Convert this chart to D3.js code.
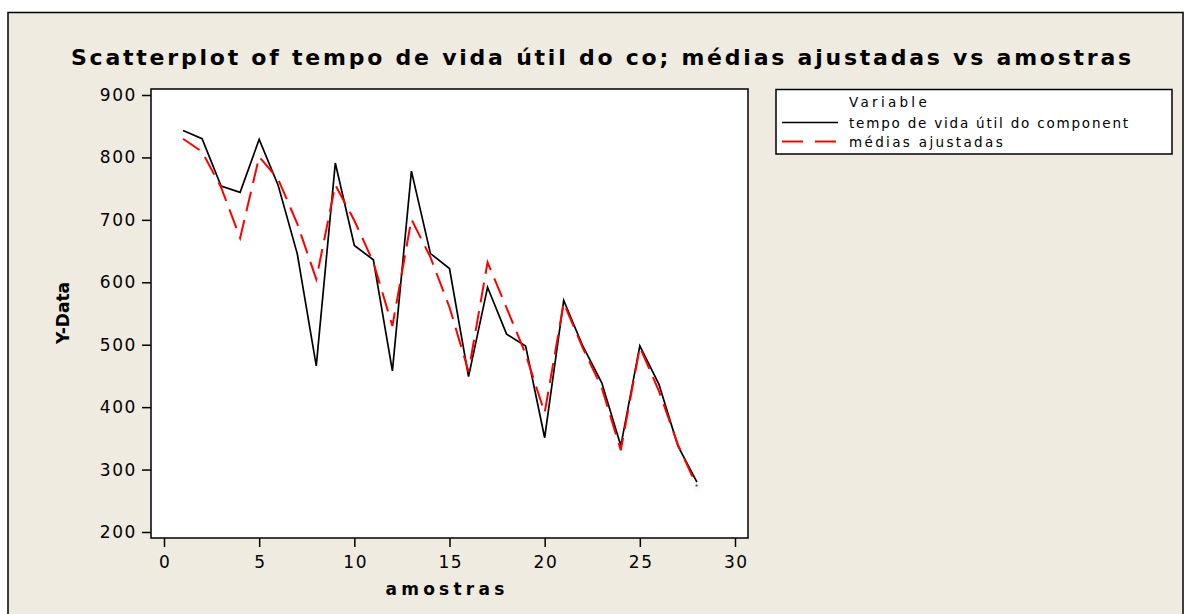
<!DOCTYPE html>
<html><head><meta charset="utf-8">
<script src="https://cdn.jsdelivr.net/npm/d3@7"></script>
<style>
html,body{margin:0;padding:0;background:#fff;}
svg{display:block;}
text{font-family:"DejaVu Sans",Verdana,sans-serif;fill:#000;}
</style></head>
<body>
<svg id="c" width="1188" height="614"></svg>
<script>
const amostras = [1,2,3,4,5,6,7,8,9,10,11,12,13,14,15,16,17,18,19,20,21,22,23,24,25,26,27,28];
const tempoVida = [843,830,754,744,829,755,646,466,791,659,636,458,778,646,622,449,592,517,498,351,571,498,439,338,498,437,338,280];
const mediasAjustadas = [830,809,752,671,801,765,694,605,756,699,632,530,701,640,560,457,632,559,485,391,567,495,431,331,496,426,340,273];
const xTicks = [0,5,10,15,20,25,30];
const yTicks = [200,300,400,500,600,700,800,900];
const titleText = "Scatterplot of tempo de vida útil do co; médias ajustadas vs amostras";
const xLabel = "amostras";
const yLabel = "Y-Data";
const legendTitle = "Variable";
const seriesNames = ["tempo de vida útil do component","médias ajustadas"];

const svg = d3.select("#c");
svg.append("rect").attr("x",8).attr("y",12.5).attr("width",1175).attr("height",620)
  .attr("fill","#efebe1").attr("stroke","#000").attr("stroke-width",1.5);

const plot = {left:151, top:89, right:748, bottom:538};
const x = d3.scaleLinear().domain([0,30]).range([164,735]);
const y = d3.scaleLinear().domain([200,900]).range([532,95]);

svg.append("rect").attr("x",plot.left).attr("y",plot.top)
  .attr("width",plot.right-plot.left).attr("height",plot.bottom-plot.top)
  .attr("fill","#fff");

function spaced(sel, target){
  const n = sel.text().length;
  const w = sel.node().getComputedTextLength();
  sel.attr("letter-spacing", ((target - w)/n).toFixed(2));
}

const gx = svg.append("g").attr("transform",`translate(0,${plot.bottom})`)
  .call(d3.axisBottom(x).tickValues(xTicks).tickSize(9).tickPadding(5));
const gy = svg.append("g").attr("transform",`translate(${plot.left},0)`)
  .call(d3.axisLeft(y).tickValues(yTicks).tickSize(9).tickPadding(5));
[gx,gy].forEach(g=>{
  g.select(".domain").remove();
  g.selectAll("line").attr("stroke","#000").attr("stroke-width",1.5);
  g.selectAll("text").style("font-family",'"DejaVu Sans",Verdana,sans-serif')
    .style("font-size","17px").attr("letter-spacing","1.6").attr("fill","#000");
});
gx.selectAll("text").attr("dy","0.95em").attr("dx","0.8");

const line = (vals)=> d3.line().x((d,i)=>x(amostras[i])).y(d=>y(d))(vals);
svg.append("clipPath").attr("id","pc").append("rect")
  .attr("x",plot.left).attr("y",plot.top).attr("width",plot.right-plot.left).attr("height",plot.bottom-plot.top);
svg.append("path").attr("d",line(tempoVida)).attr("fill","none")
  .attr("stroke","#000").attr("stroke-width",1.7).attr("clip-path","url(#pc)");
svg.append("path").attr("d",line(mediasAjustadas)).attr("fill","none")
  .attr("stroke","#ff0000").attr("stroke-width",2).attr("stroke-dasharray","20,9").attr("clip-path","url(#pc)");

svg.append("rect").attr("x",plot.left).attr("y",plot.top)
  .attr("width",plot.right-plot.left).attr("height",plot.bottom-plot.top)
  .attr("fill","none").attr("stroke","#000").attr("stroke-width",1.5);

const t = svg.append("text").attr("x",71).attr("y",65).attr("font-weight","bold")
  .attr("font-size","22px").text(titleText);
spaced(t, 1063);

const xl = svg.append("text").attr("font-weight","bold").attr("font-size","17px").text(xLabel);
spaced(xl, 123);
xl.attr("x", 447 - 123/2).attr("y",595);
svg.append("text").attr("font-weight","bold").attr("font-size","17px")
  .attr("transform","translate(69,313) rotate(-90)").attr("text-anchor","middle").text(yLabel);

svg.append("rect").attr("x",776).attr("y",89.5).attr("width",396).attr("height",64.5)
  .attr("fill","#fff").attr("stroke","#000").attr("stroke-width",1.5);
const lt0 = svg.append("text").attr("x",849).attr("y",107).attr("font-size","13.5px").text(legendTitle);
spaced(lt0, 81);
const lrows = [{y:122.5, color:"#000", dash:null, w:1.6},{y:141.5, color:"#ff0000", dash:"21,12", w:2}];
const ltw = [281, 156];
lrows.forEach((r,i)=>{
  svg.append("line").attr("x1",782).attr("x2",838).attr("y1",r.y).attr("y2",r.y)
    .attr("stroke",r.color).attr("stroke-width",r.w).attr("stroke-dasharray",r.dash);
  const lt = svg.append("text").attr("x",849).attr("y",r.y+5.5).attr("font-size","13.5px").text(seriesNames[i]);
  spaced(lt, ltw[i]);
});
</script>
</body></html>
